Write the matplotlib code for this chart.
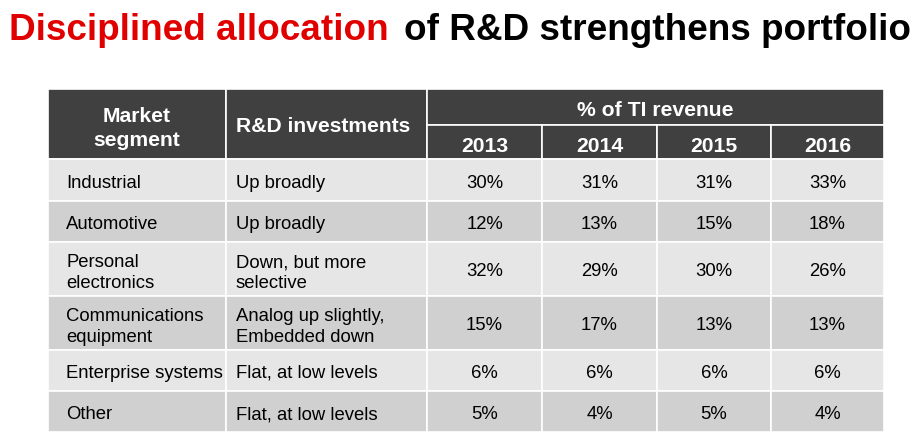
import matplotlib.pyplot as plt
from matplotlib.patches import Rectangle

# table data
segments = ["Industrial", "Automotive", "Personal\nelectronics",
            "Communications\nequipment", "Enterprise systems", "Other"]
investments = ["Up broadly", "Up broadly", "Down, but more\nselective",
               "Analog up slightly,\nEmbedded down", "Flat, at low levels",
               "Flat, at low levels"]
years = ["2013", "2014", "2015", "2016"]
share_2013 = [30, 12, 32, 15, 6, 5]
share_2014 = [31, 13, 29, 17, 6, 4]
share_2015 = [31, 15, 30, 13, 6, 5]
share_2016 = [33, 18, 26, 13, 6, 4]

plt.rcParams['font.family'] = ['Liberation Sans', 'DejaVu Sans']

fig = plt.figure(figsize=(9.22, 4.42), dpi=100)
ax = fig.add_axes([0, 0, 1, 1])
ax.set_xlim(0, 922)
ax.set_ylim(442, 0)
ax.axis('off')

# layout (pixels)
col_edges = [48, 226, 427, 542, 657, 771, 884]
head_top, head_mid, head_bot = 89, 125, 159
row_edges = [159, 201, 242, 296, 350, 391, 432]
dark = '#404040'
light_rows = ['#e6e6e6', '#d0d0d0']
line = 'white'

def cell(x0, x1, y0, y1, color):
    ax.add_patch(Rectangle((x0, y0), x1 - x0, y1 - y0, facecolor=color,
                           edgecolor=line, linewidth=1.2))

# header
cell(col_edges[0], col_edges[1], head_top, head_bot, dark)
cell(col_edges[1], col_edges[2], head_top, head_bot, dark)
cell(col_edges[2], col_edges[6], head_top, head_mid, dark)
for i in range(4):
    cell(col_edges[2 + i], col_edges[3 + i], head_mid, head_bot, dark)

hkw = dict(color='white', fontsize=15.2, fontweight='bold', ha='center',
           va='center_baseline', linespacing=1.3)
ax.text((col_edges[0] + col_edges[1]) / 2, (head_top + head_bot) / 2,
        "Market\nsegment", **hkw)
ax.text((col_edges[1] + col_edges[2]) / 2 - 3, (head_top + head_bot) / 2 + 1,
        "R&D investments", **hkw)
ax.text((col_edges[2] + col_edges[6]) / 2, (head_top + head_mid) / 2 + 1,
        "% of TI revenue", **hkw)
for i, y in enumerate(years):
    ax.text((col_edges[2 + i] + col_edges[3 + i]) / 2, (head_mid + head_bot) / 2 + 2,
            y, **hkw)

# body
shares = [share_2013, share_2014, share_2015, share_2016]
bkw = dict(color='black', fontsize=13.3, va='center_baseline', linespacing=1.3)
for r in range(len(segments)):
    y0, y1 = row_edges[r], row_edges[r + 1]
    yc = (y0 + y1) / 2 + 1
    color = light_rows[r % 2]
    for c in range(6):
        cell(col_edges[c], col_edges[c + 1], y0, y1, color)
    ax.text(col_edges[0] + 18, yc - (1 if '\n' in segments[r] else 0),
            segments[r], ha='left', **bkw)
    ax.text(col_edges[1] + 10, yc - (1 if '\n' in investments[r] else 0),
            investments[r], ha='left', **bkw)
    for c in range(4):
        ax.text((col_edges[2 + c] + col_edges[3 + c]) / 2, yc,
                f"{shares[c][r]}%", ha='center', **bkw)

# title, two colours
t1 = ax.text(9, 30, "Disciplined allocation", color='#e00000', fontsize=26.6,
             fontweight='bold', ha='left', va='center')
fig.canvas.draw()
bb = t1.get_window_extent()
ax.text(bb.x1 + 15, 30, "of R&D strengthens portfolio", color='black',
        fontsize=26.6, fontweight='bold', ha='left', va='center')

fig.savefig("out.png", dpi=100)
